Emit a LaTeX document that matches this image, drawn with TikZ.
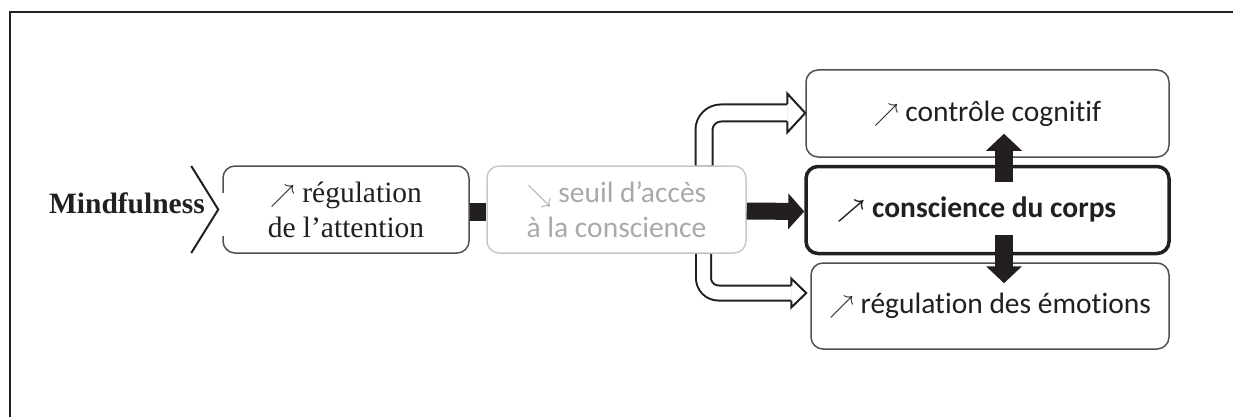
\documentclass[tikz,border=0pt]{standalone}
\usepackage{fontspec}
\setmainfont{Liberation Serif}
\newfontfamily\calfont[Ligatures=NoCommon]{Carlito}
\usetikzlibrary{arrows.meta,calc}
\definecolor{ink}{HTML}{231F20}
\definecolor{grayt}{HTML}{A7A9AC}
\definecolor{grayb}{HTML}{C8C8C8}
\definecolor{boxb}{HTML}{505050}
\newcommand{\arrNE}{{\fontsize{25}{25}\selectfont$\nearrow$}}
\newcommand{\arrSE}{{\fontsize{25}{25}\selectfont$\searrow$}}
\begin{document}
\begin{tikzpicture}[x=1pt,y=-1pt,
  every node/.style={inner sep=0pt, text=ink},
  rbox/.style={draw=boxb, line width=1.5pt, rounded corners=12pt, align=center,
    font=\fontsize{29.5}{35}\selectfont},
  bar/.style={draw=ink, line width=18pt},
  fatarrow/.style={draw=ink, line width=18pt, -{Triangle[width=35pt,length=17pt]}},
  hollow/.style={draw=ink, line width=2pt, double=white, rounded corners=17pt},
  hollowhead/.style={draw=ink, line width=2pt, fill=white, line join=miter}]
\useasboundingbox (0,0) rectangle (1233,417);
% frame
\draw[ink, line width=2.5pt] (1233,12) -- (10,12) -- (10,417);
% nodes
\node[rbox, minimum width=246pt, minimum height=87pt] (reg) at (346,209.5)
  {\arrNE\ régulation\\de l’attention};
\node[rbox, draw=grayb, text=grayt, minimum width=259pt, minimum height=87pt,
  font=\calfont\fontsize{29.5}{35}\selectfont] (seuil) at (616.5,209.5)
  {\arrSE\ seuil d’accès\\à la conscience};
\node[rbox, minimum width=363pt, minimum height=87pt,
  font=\calfont\fontsize{29.5}{35}\selectfont] (cog) at (987.5,113.5)
  {\arrNE\ contrôle cognitif};
\node[rbox, draw=ink, line width=3.5pt, minimum width=363pt, minimum height=87pt,
  font=\calfont\bfseries\fontsize{29.5}{35}\selectfont] (corps) at (987.5,210)
  {{\boldmath\arrNE}\ conscience du corps\hspace*{22pt}};
\node[rbox, minimum width=358pt, minimum height=86pt,
  font=\calfont\fontsize{29.5}{35}\selectfont] (emo) at (990,306)
  {\arrNE\ régulation des émotions};
\node[anchor=base east, font=\bfseries\fontsize{29.5}{35}\selectfont] (mind)
  at (205,213) {Mindfulness};
% gap in left edge of first box
\draw[white, line width=3pt] ($(reg.west)+(0,-16.5)$) -- ($(reg.west)+(0,26.5)$);
% chevron
\draw[ink, line width=2pt, line join=miter] ($(reg.west)+(-31,-43.5)$) -- ($(reg.west)+(-4,0)$) -- ($(reg.west)+(-31,43.5)$);
% solid connectors
\draw[bar] ($(reg.east)+(0,2.5)$) -- ($(seuil.west)+(0,2.5)$);
\draw[draw=ink, line width=17pt, -{Triangle[width=35pt,length=16pt]}]
  ($(seuil.east)+(0,1.5)$) -- ($(corps.west)+(0,1.5)$);
\coordinate (ua) at ($(corps.north)+(16.5,17.5)$);
\coordinate (ue) at ($(cog.south)+(0,-24)$);
\coordinate (da) at ($(corps.south)+(16.5,-20.5)$);
\coordinate (de) at ($(emo.north)+(0,21)$);
\draw[fatarrow] (ua) -- (ua |- ue);
\draw[fatarrow] (da) -- (da |- de);
% hollow arrow to cog
\coordinate (h1s) at ($(seuil.north)+(87.5,0)$);
\coordinate (h1t) at ($(cog.west)+(0,-0.5)$);
\coordinate (h1b) at ($(h1t)+(-18,0)$);
\draw[hollow, double distance=15pt] (h1s) |- (h1b);
\draw[hollowhead] ($(h1b)+(0,-8.5)$) -- ($(h1b)+(0,-19.5)$) -- (h1t)
  -- ($(h1b)+(0,19.5)$) -- ($(h1b)+(0,8.5)$);
% hollow arrow to emo
\coordinate (h2s) at ($(seuil.south)+(87,0)$);
\coordinate (h2t) at ($(emo.west)+(-4,-13)$);
\coordinate (h2b) at ($(h2t)+(-15,0)$);
\draw[hollow, double distance=13pt, rounded corners=15pt] (h2s) |- (h2b);
\draw[hollowhead] ($(h2b)+(0,-7.5)$) -- ($(h2b)+(0,-14.5)$) -- (h2t)
  -- ($(h2b)+(0,14.5)$) -- ($(h2b)+(0,7.5)$);
\end{tikzpicture}
\end{document}
